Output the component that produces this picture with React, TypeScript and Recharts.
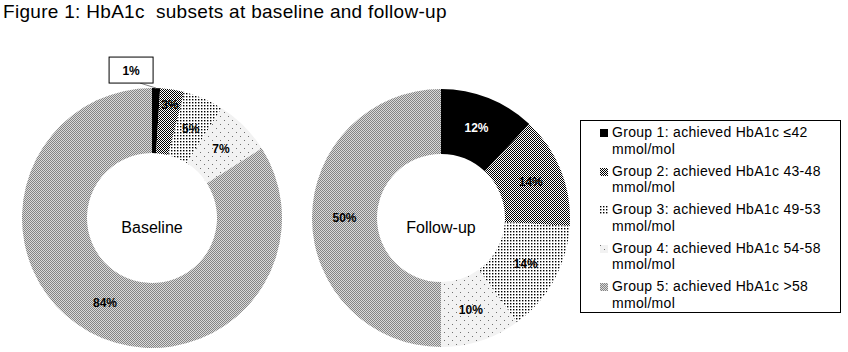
import React from 'react';
import { PieChart, Pie, Cell } from 'recharts';

const groups = ['Group 1', 'Group 2', 'Group 3', 'Group 4', 'Group 5'];
const ranges = ['≤42', '43-48', '49-53', '54-58', '>58'];
const baselineValues = [1, 3, 5, 7, 84];
const followUpValues = [12, 14, 14, 10, 50];
const pieTitles = ['Baseline', 'Follow-up'];

const title = 'Figure 1: HbA1c  subsets at baseline and follow-up';
const fills = ['#000000', 'url(#pat2)', 'url(#pat3)', 'url(#pat4)', 'url(#pat5)'];
const FONT = '"Liberation Sans", Arial, sans-serif';
const RAD = Math.PI / 180;
const CY = 218;
const CX = [152, 441];

const baselineData = groups.map((name, i) => ({ name, value: baselineValues[i] }));
const followUpData = groups.map((name, i) => ({ name, value: followUpValues[i] }));

function polar(cx: number, cy: number, r: number, angle: number) {
  return [cx + r * Math.cos(-angle * RAD), cy + r * Math.sin(-angle * RAD)];
}

const renderLabel = (props: any) => {
  const { cx, cy, midAngle, innerRadius, outerRadius, value, index, percent } = props;
  if (percent < 0.02) {
    // small slice: callout box above the ring
    const [ox, oy] = polar(cx, cy, outerRadius, midAngle);
    const bx = ox - 47;
    const by = oy - 31;
    return (
      <g key={`lbl-${index}`}>
        <line x1={bx + 31} y1={by + 26} x2={ox} y2={oy} stroke="#808080" strokeWidth={1} />
        <rect x={bx} y={by} width={44} height={26} fill="#fff" stroke="#000" strokeWidth={1} />
        <text x={bx + 22} y={by + 14} textAnchor="middle" dominantBaseline="central"
          fontFamily={FONT} fontSize={12} fontWeight="bold" fill="#000">{value}%</text>
      </g>
    );
  }
  const r = percent < 0.04 ? outerRadius - 16 : (innerRadius + outerRadius) / 2;
  const [x, y] = polar(cx, cy, r, midAngle);
  return (
    <text key={`lbl-${index}`} x={x} y={y} textAnchor="middle" dominantBaseline="central"
      fontFamily={FONT} fontSize={12} fontWeight="bold" fill={index === 0 ? '#fff' : '#000'}>
      {value}%
    </text>
  );
};

function Patterns() {
  return (
    <defs>
      <pattern id="pat2" width={2} height={2} patternUnits="userSpaceOnUse">
        <rect width={2} height={2} fill="#ffffff" />
        <rect x={0} y={0} width={1} height={1} fill="#000" />
        <rect x={1} y={1} width={1} height={1} fill="#000" />
      </pattern>
      <pattern id="pat3" width={3} height={3} patternUnits="userSpaceOnUse">
        <rect width={3} height={3} fill="#ffffff" />
        <rect x={0} y={0} width={1.4} height={1.4} fill="#000" />
      </pattern>
      <pattern id="pat4" width={8} height={8} patternUnits="userSpaceOnUse">
        <rect width={8} height={8} fill="#f2f2f2" />
        <rect x={0} y={0} width={1} height={1} fill="#707070" />
        <rect x={4} y={4} width={1} height={1} fill="#707070" />
      </pattern>
      <pattern id="pat5" width={2} height={2} patternUnits="userSpaceOnUse">
        <rect width={2} height={2} fill="#dadada" />
        <rect x={0} y={0} width={1} height={1} fill="#858585" />
        <rect x={1} y={1} width={1} height={1} fill="#858585" />
      </pattern>
    </defs>
  );
}

export default function App() {
  return (
    <div style={{ position: 'absolute', left: 0, top: 0, width: 848, height: 352, background: '#fff', fontFamily: FONT }}>
      <div style={{ position: 'absolute', left: 3, top: 1, fontSize: 19, letterSpacing: 0.3, whiteSpace: 'pre', color: '#000' }}>
        {title}
      </div>
      <div style={{ position: 'absolute', left: 0, top: 0 }}>
        <PieChart width={848} height={352} margin={{ top: 0, right: 0, bottom: 0, left: 0 }}>
          <Patterns />
          <Pie data={baselineData} dataKey="value" nameKey="name" cx={CX[0]} cy={CY}
            innerRadius={65} outerRadius={130} startAngle={90} endAngle={-270}
            stroke="none" label={renderLabel} labelLine={false} isAnimationActive={false}>
            {baselineData.map((_, i) => <Cell key={`b-${i}`} fill={fills[i]} />)}
          </Pie>
          <Pie data={followUpData} dataKey="value" nameKey="name" cx={CX[1]} cy={CY}
            innerRadius={64} outerRadius={129} startAngle={90} endAngle={-270}
            stroke="none" label={renderLabel} labelLine={false} isAnimationActive={false}>
            {followUpData.map((_, i) => <Cell key={`f-${i}`} fill={fills[i]} />)}
          </Pie>
          {pieTitles.map((t, i) => (
            <text key={t} x={CX[i]} y={CY + 15} textAnchor="middle" fontFamily={FONT} fontSize={16} fill="#000">
              {t}
            </text>
          ))}
        </PieChart>
      </div>
      <div style={{ position: 'absolute', left: 580, top: 120, width: 259, height: 191, border: '1px solid #000',
        background: '#fff', fontSize: 14, letterSpacing: 0.3, color: '#000' }}>
        <div style={{ position: 'absolute', left: 19, top: 3 }}>
          {groups.map((g, i) => (
            <div key={g} style={{ display: 'flex', alignItems: 'flex-start', height: 38.5 }}>
              <svg width={8} height={8} style={{ marginTop: 5, marginRight: 4, flex: 'none' }}>
                <rect width={8} height={8} fill={fills[i]} />
              </svg>
              <div style={{ lineHeight: '16.5px' }}>
                <div>{`${g}: achieved HbA1c ${ranges[i]}`}</div>
                <div>mmol/mol</div>
              </div>
            </div>
          ))}
        </div>
      </div>
    </div>
  );
}
